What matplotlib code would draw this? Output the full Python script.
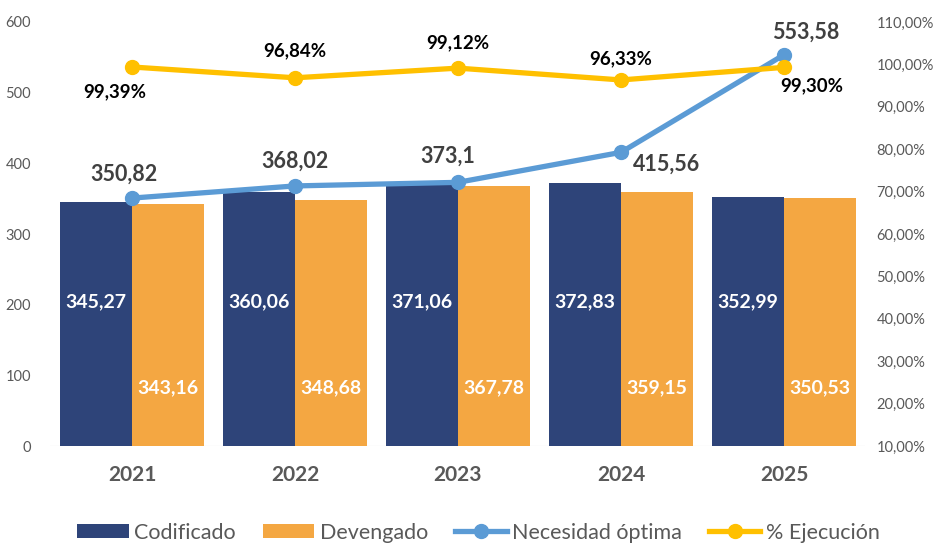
import numpy as np
import matplotlib
matplotlib.use('Agg')
from matplotlib import pyplot as plt
from matplotlib.ticker import FuncFormatter

years = ['2021', '2022', '2023', '2024', '2025']
codificado = [345.27, 360.06, 371.06, 372.83, 352.99]
devengado = [343.16, 348.68, 367.78, 359.15, 350.53]
necesidad = [350.82, 368.02, 373.1, 415.56, 553.58]
ejecucion = [99.39, 96.84, 99.12, 96.33, 99.30]

NAVY = '#2E4479'
ORANGE = '#F4A742'
BLUE = '#5B9BD5'
YELLOW = '#FFC000'
GREY = '#595959'

plt.rcParams['font.family'] = ['Lato', 'DejaVu Sans']

fig = plt.figure(figsize=(9.38, 5.43), dpi=100)
ax = fig.add_axes([0.0538, 0.1786, 0.8689, 0.7809])
ax2 = ax.twinx()

x = np.arange(len(years))
w = 0.44
b1 = ax.bar(x - w / 2, codificado, w, color=NAVY, label='Codificado', zorder=2)
b2 = ax.bar(x + w / 2, devengado, w, color=ORANGE, label='Devengado', zorder=2)

# bar labels
for i in range(len(years)):
    ax.text(x[i] - w / 2, 204, '{:.2f}'.format(codificado[i]).replace('.', ','),
            ha='center', va='center', color='white', fontsize=14, fontweight='bold', zorder=5)
    ax.text(x[i] + w / 2, 83, '{:.2f}'.format(devengado[i]).replace('.', ','),
            ha='center', va='center', color='white', fontsize=14, fontweight='bold', zorder=5)

l1, = ax.plot(x, necesidad, color=BLUE, lw=3.8, marker='o', ms=10, label='Necesidad óptima', zorder=4)

nec_off = [(-8, 24), (0, 25), (-10, 26), (46, -12), (22, 23)]
for i, v in enumerate(necesidad):
    ax.annotate('{:g}'.format(v).replace('.', ','), (x[i], v), xytext=nec_off[i],
                textcoords='offset pixels', ha='center', va='center',
                color='#404040', fontsize=15.5, fontweight='bold', zorder=6)

l2, = ax2.plot(x, np.array(ejecucion) / 100, color=YELLOW, lw=3.8, marker='o', ms=10,
               label='% Ejecución', zorder=4)
ej_off = [(-17, -25), (0, 27), (0, 25), (0, 21), (28, -18)]
for i, v in enumerate(ejecucion):
    ax2.annotate('{:.2f}%'.format(v).replace('.', ','), (x[i], v / 100), xytext=ej_off[i],
                 textcoords='offset pixels', ha='center', va='center',
                 color='black', fontsize=13.5, fontweight='bold', zorder=6)

ax.set_xlim(-0.5, len(years) - 0.5)
ax.set_ylim(0, 600)
ax.set_yticks(range(0, 601, 100))
ax2.set_ylim(0.1, 1.1)
ax2.set_yticks(np.arange(0.1, 1.101, 0.1))
ax2.yaxis.set_major_formatter(FuncFormatter(lambda v, p: '{:.2f}%'.format(v * 100).replace('.', ',')))

ax.set_xticks(x)
ax.set_xticklabels(years, fontsize=15, fontweight='bold', color=GREY)
ax.tick_params(axis='x', length=0, pad=14)
ax.tick_params(axis='y', length=0, labelsize=10.5, labelcolor=GREY, pad=14)
ax2.tick_params(axis='y', length=0, labelsize=10.5, labelcolor=GREY, pad=8)

for a in (ax, ax2):
    for s in a.spines.values():
        s.set_visible(False)
ax.axhline(0, color='#D9D9D9', lw=0.8, zorder=1)

fig.legend([b1, b2, l1, l2], ['Codificado', 'Devengado', 'Necesidad óptima', '% Ejecución'],
           loc='lower center', ncol=4, frameon=False,
           fontsize=15.5, labelcolor=GREY, bbox_to_anchor=(0.51, -0.035),
           handlelength=2.4, handleheight=0.65, columnspacing=1.25, handletextpad=0.25)

fig.savefig('out.png', dpi=100)
